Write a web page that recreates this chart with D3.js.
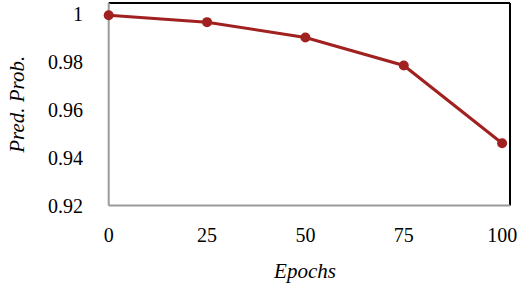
<!DOCTYPE html>
<html>
<head>
<meta charset="utf-8">
<script src="https://cdn.jsdelivr.net/npm/d3@7"></script>
<style>
  body { margin: 0; background: #fff; }
  svg { display: block; }
  text { font-family: 'Liberation Serif', 'Times New Roman', Times, 'DejaVu Serif', serif; }
</style>
</head>
<body>
<svg id="chart" width="522" height="290"></svg>
<script>
const epochs = [0, 25, 50, 75, 100];
const predProb = [0.9995, 0.9966, 0.9902, 0.9785, 0.946];
const yTicks = [0.92, 0.94, 0.96, 0.98, 1];

const width = 522, height = 290;
const plotLeft = 108.7, plotRight = 510, plotTop = 3, plotBottom = 205.5;

const x = d3.scaleLinear().domain([0, 102]).range([plotLeft, plotRight]);
const y = d3.scaleLinear().domain([0.92, 1.0046]).range([plotBottom, plotTop]);

const svg = d3.select("#chart");
const red = "#a0211f";

// frame: top/right black, left/bottom grey
svg.append("line").attr("x1", plotLeft).attr("x2", plotRight).attr("y1", plotTop).attr("y2", plotTop)
  .attr("stroke", "#000").attr("stroke-width", 2);
svg.append("line").attr("x1", plotRight).attr("x2", plotRight).attr("y1", plotTop).attr("y2", plotBottom)
  .attr("stroke", "#000").attr("stroke-width", 2);
svg.append("line").attr("x1", plotLeft).attr("x2", plotLeft).attr("y1", plotTop).attr("y2", plotBottom)
  .attr("stroke", "#9a9a9a").attr("stroke-width", 2);
svg.append("line").attr("x1", plotLeft).attr("x2", plotRight).attr("y1", plotBottom).attr("y2", plotBottom)
  .attr("stroke", "#9a9a9a").attr("stroke-width", 2);

// y tick labels
svg.append("g").selectAll("text")
  .data(yTicks)
  .join("text")
  .attr("x", 83)
  .attr("y", d => y(d))
  .attr("dy", "0.35em")
  .attr("text-anchor", "end")
  .attr("font-size", 20)
  .text(d => d3.format("")(d));

// x tick labels
svg.append("g").selectAll("text")
  .data(epochs)
  .join("text")
  .attr("x", d => x(d))
  .attr("y", 242)
  .attr("text-anchor", "middle")
  .attr("font-size", 20)
  .text(d => d);

svg.append("text")
  .attr("x", 305).attr("y", 278)
  .attr("text-anchor", "middle")
  .attr("font-size", 21)
  .attr("font-style", "italic")
  .text("Epochs");

svg.append("text")
  .attr("transform", `translate(24,${(plotTop + plotBottom) / 2}) rotate(-90)`)
  .attr("text-anchor", "middle")
  .attr("font-size", 21)
  .attr("font-style", "italic")
  .text("Pred. Prob.");

const pts = epochs.map((e, i) => [e, predProb[i]]);

svg.append("path")
  .datum(pts)
  .attr("fill", "none")
  .attr("stroke", red)
  .attr("stroke-width", 3)
  .attr("d", d3.line().x(d => x(d[0])).y(d => y(d[1])));

svg.append("g").selectAll("circle")
  .data(pts)
  .join("circle")
  .attr("cx", d => x(d[0]))
  .attr("cy", d => y(d[1]))
  .attr("r", 5)
  .attr("fill", red);
</script>
</body>
</html>
